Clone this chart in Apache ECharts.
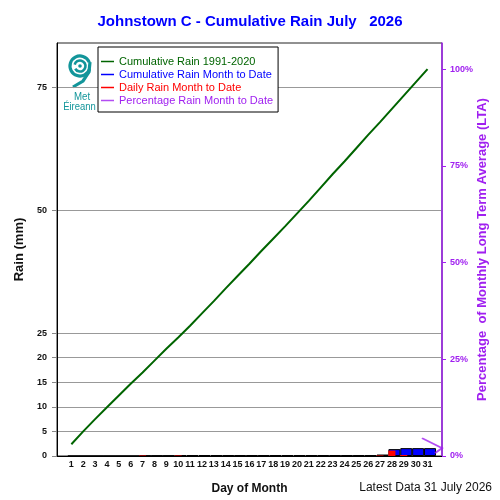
<!DOCTYPE html>
<html>
<head>
<meta charset="utf-8">
<script src="https://cdn.jsdelivr.net/npm/echarts@6/dist/echarts.min.js"></script>
<style>
  html, body { margin: 0; padding: 0; background: #fff; }
  #chart-container { width: 500px; height: 500px; }
</style>
</head>
<body>
<div id="chart-container"></div>
<script>
// day of month
const days = [1,2,3,4,5,6,7,8,9,10,11,12,13,14,15,16,17,18,19,20,21,22,23,24,25,26,27,28,29,30,31];
// long term average cumulative rain 1991-2020 (mm)
const ltaCum = [2.4,5.0,7.5,9.9,12.3,14.7,17.0,19.4,21.8,24.1,26.5,29.0,31.5,34.1,36.6,39.1,41.7,44.2,46.7,49.3,
                51.9,54.6,57.3,59.9,62.6,65.3,67.9,70.6,73.3,76.0,78.7];
// daily rain month to date (mm)
const dailyRain = [0,0,0,0,0,0,0.1,0,0,0.1,0,0,0,0,0,0,0,0,0,0,0,0,0,0,0,0,0.1,1.1,0.2,0,0];
// cumulative rain month to date (mm)
const cumRain = [0,0,0,0,0,0,0.1,0.1,0.1,0.2,0.2,0.2,0.2,0.2,0.2,0.2,0.2,0.2,0.2,0.2,0.2,0.2,0.2,0.2,0.2,0.2,
                 0.3,1.4,1.6,1.6,1.6];
const leftTicks = [0,5,10,15,20,25,50,75];
const rightTicks = [0,25,50,75,100];

const yMax = 84;
const xMin = -0.21, xMax = 32.22;
const total = ltaCum[ltaCum.length - 1];
const pctNow = cumRain[cumRain.length - 1] / total * 100;

const FONT = 'Liberation Sans';
const GREEN = '#006400', BLUE = '#0000ff', RED = '#ff0000', PURPLE = '#a020f0', TEAL = '#12959a';

let myChart = echarts.init(document.getElementById('chart-container'));

var option = {
    animation: false,
    backgroundColor: '#fff',
    textStyle: { fontFamily: FONT },
    title: {
        text: 'Johnstown C - Cumulative Rain July   2026',
        left: 'center',
        top: 9,
        textStyle: { color: BLUE, fontSize: 15, fontWeight: 'bold', fontFamily: FONT }
    },
    grid: {
        left: 57, right: 58, top: 43, bottom: 44,
        outerBoundsMode: 'none',
        containLabel: false,
        show: true, borderColor: '#222', borderWidth: 1, backgroundColor: 'transparent'
    },
    legend: {
        orient: 'vertical',
        left: 98, top: 47,
        padding: [8, 5, 5, 3],
        itemGap: 0,
        itemWidth: 13, itemHeight: 1.5,
        icon: 'rect',
        borderColor: '#000', borderWidth: 1, backgroundColor: '#fff',
        textStyle: { fontSize: 11, fontFamily: FONT, lineHeight: 13 },
        data: [
            { name: 'Cumulative Rain 1991-2020', textStyle: { color: GREEN }, itemStyle: { color: GREEN, borderWidth: 0 } },
            { name: 'Cumulative Rain Month to Date', textStyle: { color: BLUE }, itemStyle: { color: BLUE, borderWidth: 0 } },
            { name: 'Daily Rain Month to Date', textStyle: { color: RED }, itemStyle: { color: RED, borderWidth: 0 } },
            { name: 'Percentage Rain Month to Date', textStyle: { color: PURPLE }, itemStyle: { color: PURPLE, borderWidth: 0 } }
        ]
    },
    xAxis: {
        type: 'value',
        min: xMin, max: xMax,
        name: 'Day of Month',
        nameLocation: 'middle',
        nameGap: 27,
        nameMoveOverlap: false,
        nameTextStyle: { color: '#111', fontSize: 12, fontWeight: 'bold', fontFamily: FONT },
        axisLine: { show: true, onZero: false, lineStyle: { color: '#000', width: 1 } },
        axisTick: { show: false },
        splitLine: { show: false },
        axisLabel: {
            customValues: days,
            color: '#111', fontSize: 9, fontWeight: 'bold', margin: 4
        }
    },
    yAxis: [
        {
            type: 'value',
            min: 0, max: yMax,
            name: 'Rain (mm)',
            nameLocation: 'middle',
            nameRotate: 90,
            nameGap: 31,
            nameMoveOverlap: false,
            nameTextStyle: { color: '#111', fontSize: 13, fontWeight: 'bold', fontFamily: FONT },
            axisLine: { show: true, onZero: false, lineStyle: { color: '#000', width: 1 } },
            axisTick: { show: true, customValues: leftTicks, length: 5, lineStyle: { color: '#888' } },
            axisLabel: { customValues: leftTicks, color: '#111', fontSize: 9, fontWeight: 'bold', margin: 10 },
            splitLine: { show: true, lineStyle: { color: '#999', width: 1 } }
        },
        {
            type: 'value',
            min: 0, max: yMax / total * 100,
            position: 'right',
            name: 'Percentage  of Monthly Long Term Average (LTA)',
            nameLocation: 'middle',
            nameRotate: 90,
            nameGap: 34,
            nameMoveOverlap: false,
            nameTextStyle: { color: PURPLE, fontSize: 13, fontWeight: 'bold', fontFamily: FONT },
            axisLine: { show: true, onZero: false, lineStyle: { color: PURPLE, width: 1.5 } },
            axisTick: { show: true, customValues: rightTicks, length: 4, lineStyle: { color: PURPLE } },
            axisLabel: {
                customValues: rightTicks, color: PURPLE, fontSize: 9, fontWeight: 'bold', margin: 8,
                formatter: '{value}%'
            },
            splitLine: { show: false }
        }
    ],
    graphic: [
        // Met Eireann logo
        { type: 'arc', shape: { cx: 80, cy: 66, r: 10, startAngle: 0.3, endAngle: 5.9 },
          style: { stroke: TEAL, lineWidth: 3.2, fill: null } },
        { type: 'arc', shape: { cx: 80, cy: 66, r: 5.5, startAngle: 3.4, endAngle: 8.9 },
          style: { stroke: TEAL, lineWidth: 2.6, fill: null } },
        { type: 'circle', shape: { cx: 80, cy: 66, r: 1.8 }, style: { fill: TEAL } },
        { type: 'polyline', shape: { points: [[90, 62], [89, 72], [83, 81], [73, 87]] },
          style: { stroke: TEAL, lineWidth: 3.2, fill: null } },
        { type: 'text', x: 82, y: 97, scaleX: 0.88,
          style: { text: 'Met', fill: TEAL, font: '11px ' + FONT,
                   align: 'center', verticalAlign: 'middle' } },
        { type: 'text', x: 79.5, y: 107, scaleX: 0.86,
          style: { text: 'Éireann', fill: TEAL, font: '11px ' + FONT,
                   align: 'center', verticalAlign: 'middle' } },
        { type: 'text', right: 8, top: 482,
          style: { text: 'Latest Data 31 July 2026', fill: '#111', font: '12px ' + FONT } }
    ],
    series: [
        {
            name: 'Cumulative Rain Month to Date',
            type: 'bar',
            barWidth: 12,
            itemStyle: { color: BLUE, borderColor: '#000', borderWidth: 1 },
            data: days.map((d, i) => [d, cumRain[i]]),
            z: 2
        },
        {
            name: 'Daily Rain Month to Date',
            type: 'bar',
            barWidth: 7,
            barGap: '-100%',
            itemStyle: { color: RED },
            data: days.map((d, i) => [d, dailyRain[i]]),
            z: 3
        },
        {
            name: 'Cumulative Rain 1991-2020',
            type: 'line',
            symbol: 'none',
            lineStyle: { color: GREEN, width: 2 },
            itemStyle: { color: GREEN },
            data: days.map((d, i) => [d, ltaCum[i]]),
            z: 4
        },
        {
            name: 'Percentage Rain Month to Date',
            type: 'scatter',
            yAxisIndex: 1,
            clip: false,
            symbol: 'path://M0,0 L20,10 L13,15',
            symbolSize: [20, 15],
            symbolKeepAspect: false,
            symbolOffset: [-10, -2.5],
            itemStyle: { color: 'none', borderColor: PURPLE, borderWidth: 2 },
            data: [[xMax, pctNow]],
            z: 5
        }
    ]
};

myChart.setOption(option);
</script>
</body>
</html>
